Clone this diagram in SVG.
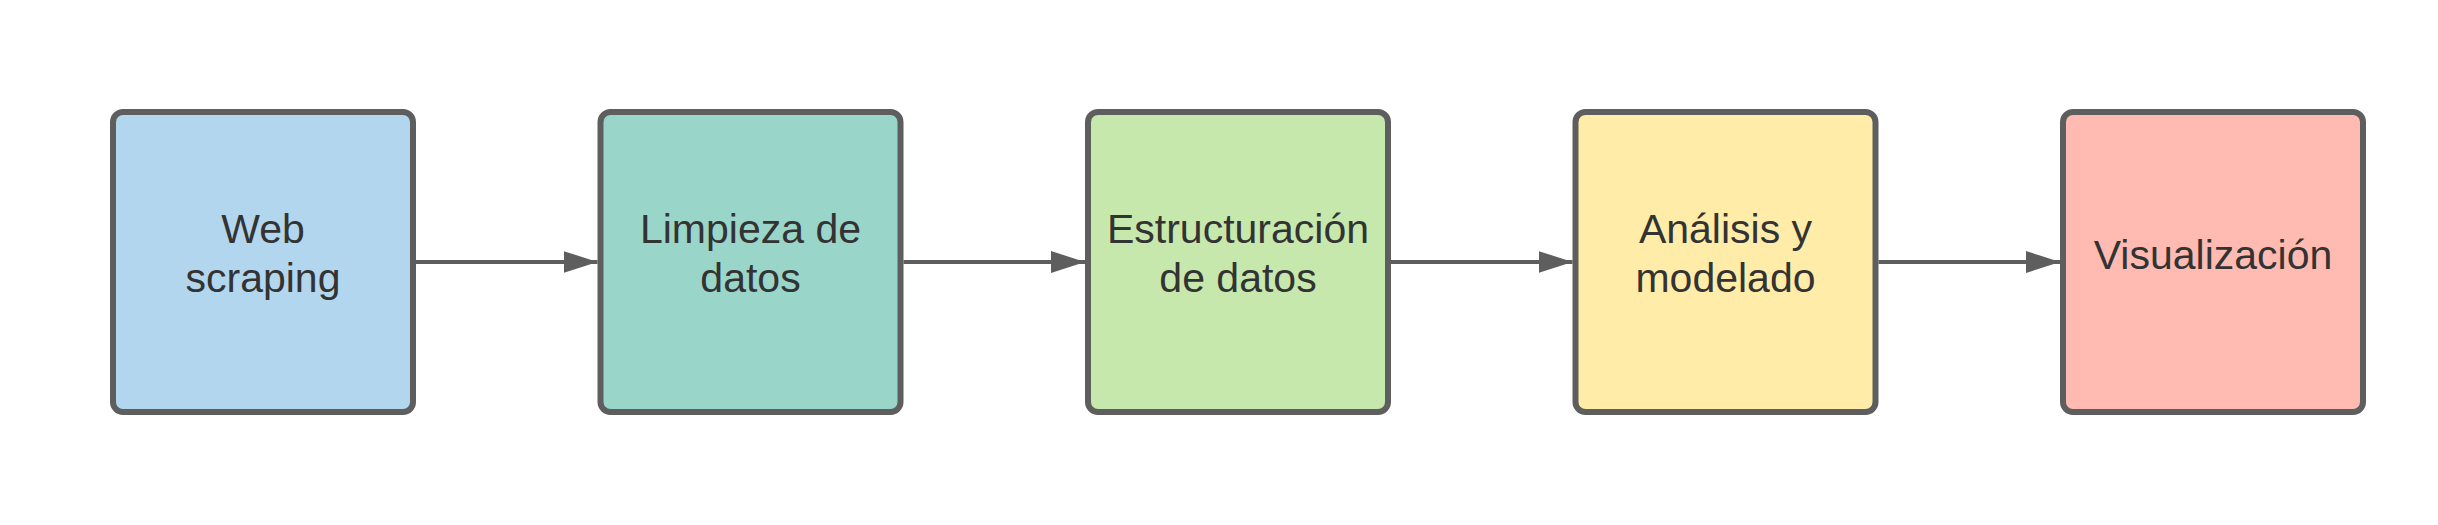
<svg xmlns="http://www.w3.org/2000/svg" width="2438" height="525" viewBox="0 0 2438 525">
  <defs>
    <style>
      .box { stroke: #5e5e5e; stroke-width: 6; }
      .lbl { font-family: "Liberation Sans", Arial, sans-serif; font-size: 41px; fill: #333333; text-anchor: middle; }
      .conn { stroke: #5e5e5e; stroke-width: 4; fill: none; marker-end: url(#arrow); }
    </style>
    <marker id="arrow" markerUnits="userSpaceOnUse" markerWidth="34" markerHeight="22" refX="34" refY="11" orient="auto">
      <path d="M0,0 L34,11 L0,22 Z" fill="#5e5e5e"/>
    </marker>
  </defs>
  <rect width="2438" height="525" fill="#ffffff"/>
  <g id="connectors">
    <line class="conn" x1="416" y1="262" x2="597.5" y2="262"/>
    <line class="conn" x1="903.5" y1="262" x2="1085" y2="262"/>
    <line class="conn" x1="1391" y1="262" x2="1572.5" y2="262"/>
    <line class="conn" x1="1878.5" y1="262" x2="2060" y2="262"/>
  </g>
  <g id="node-web-scraping">
    <rect class="box" x="113" y="112" width="300" height="300" rx="10" fill="#b3d6ef"/>
    <text class="lbl" x="263" y="243">Web</text>
    <text class="lbl" x="263" y="292">scraping</text>
  </g>
  <g id="node-limpieza">
    <rect class="box" x="600.5" y="112" width="300" height="300" rx="10" fill="#9ad5ca"/>
    <text class="lbl" x="750.5" y="243">Limpieza de</text>
    <text class="lbl" x="750.5" y="292">datos</text>
  </g>
  <g id="node-estructuracion">
    <rect class="box" x="1088" y="112" width="300" height="300" rx="10" fill="#c7e8ac"/>
    <text class="lbl" x="1238" y="243">Estructuración</text>
    <text class="lbl" x="1238" y="292">de datos</text>
  </g>
  <g id="node-analisis">
    <rect class="box" x="1575.5" y="112" width="300" height="300" rx="10" fill="#ffeca9"/>
    <text class="lbl" x="1725.5" y="243">Análisis y</text>
    <text class="lbl" x="1725.5" y="292">modelado</text>
  </g>
  <g id="node-visualizacion">
    <rect class="box" x="2063" y="112" width="300" height="300" rx="10" fill="#ffbbb1"/>
    <text class="lbl" x="2213" y="269">Visualización</text>
  </g>
</svg>
